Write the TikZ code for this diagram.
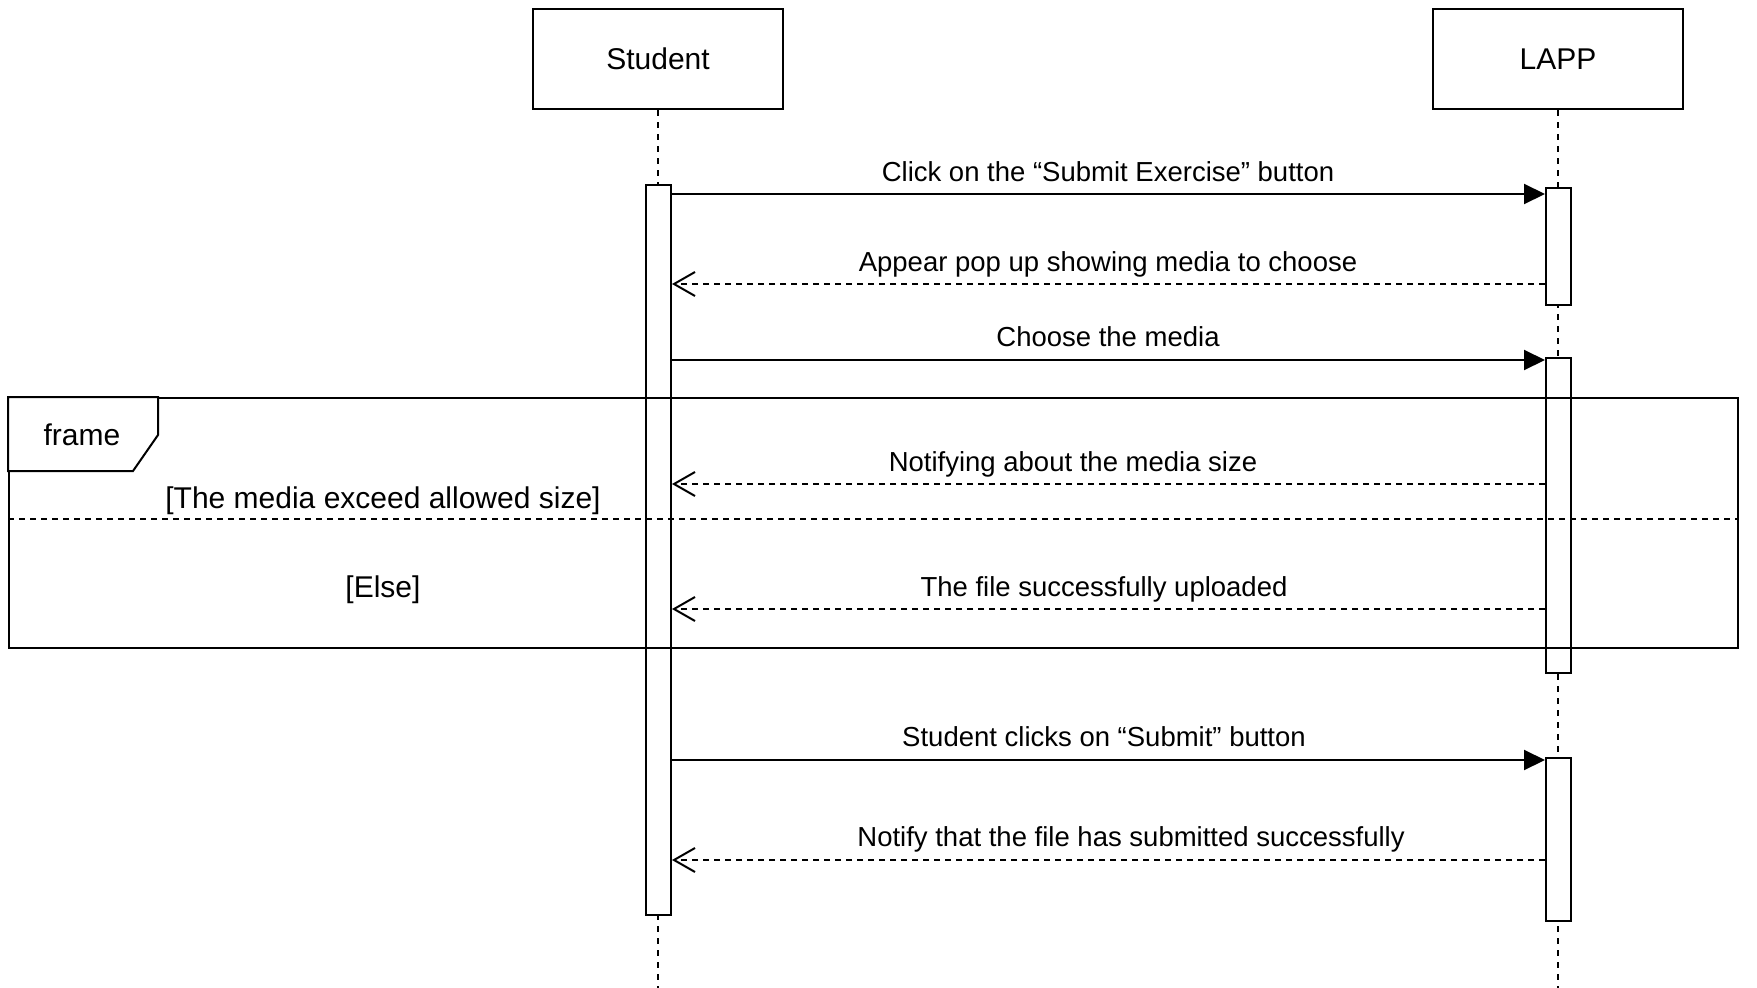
\documentclass[tikz,border=0pt]{standalone}
\usepackage{fontspec}
\setmainfont{Liberation Sans}
\usetikzlibrary{arrows.meta}
\begin{document}
\begin{tikzpicture}[x=1pt,y=-1pt,line width=2pt,
  font=\fontsize{27.5}{31}\selectfont,
  bigtext/.style={font=\fontsize{30}{34}\selectfont},
  actor/.style={draw,fill=white,minimum width=250pt,minimum height=100pt,inner sep=0pt,bigtext},
  actbar/.style={draw,fill=white,minimum width=25pt,anchor=north,inner sep=0pt},
  life/.style={dash pattern=on 6pt off 6pt},
  sync/.style={-{Triangle[length=21pt,width=20pt]}},
  reply/.style={dash pattern=on 6pt off 5pt,-{Straight Barb[length=21pt,width=24pt,line width=2pt]}},
  lbl/.style={anchor=base,inner sep=0pt}]
\useasboundingbox (0,0) rectangle (1757,988);
% participants
\node[actor] (stu) at (658,59) {Student};
\node[actor] (lapp) at (1558,59) {LAPP};
\coordinate (stuend) at (658,988);
\coordinate (lappend) at (1558,988);
\draw[life] (stu.south) -- (stuend);
\draw[life] (lapp.south) -- (lappend);
% activation bars
\node[actbar,minimum height=730pt] (sa) at (658.5,184) {};
\node[actbar,minimum height=117pt] (la1) at (1558.5,187) {};
\node[actbar,minimum height=315pt] (la2) at (1558.5,357) {};
\node[actbar,minimum height=163pt] (la3) at (1558.5,757) {};
% frame
\node[draw,minimum width=1729pt,minimum height=250pt,anchor=north west,inner sep=0pt] (frm) at (8,397) {};
\draw[fill=white] (frm.north west) -- ++(150,0) -- ++(0,38) -- ++(-25,36) -- (frm.north west |- 0,471) -- cycle;
\node[lbl,bigtext] (frmlbl) at (82,445) {frame};
\coordinate (dl) at (frm.west |- 0,519);
\coordinate (dr) at (frm.east |- 0,519);
\draw[dash pattern=on 6pt off 5pt] (dl) -- (dr);
\node[lbl,bigtext] (g1) at (383,508) {[The media exceed allowed size]};
\node[lbl,bigtext] (g2) at (383,597) {[Else]};
% message end points
\coordinate (m1a) at (sa.east |- 0,194);   \coordinate (m1b) at (la1.west |- 0,194);
\coordinate (m2a) at (la1.west |- 0,284);  \coordinate (m2b) at (sa.east |- 0,284);
\coordinate (m3a) at (sa.east |- 0,360);   \coordinate (m3b) at (la2.west |- 0,360);
\coordinate (m4a) at (la2.west |- 0,484);  \coordinate (m4b) at (sa.east |- 0,484);
\coordinate (m5a) at (la2.west |- 0,609);  \coordinate (m5b) at (sa.east |- 0,609);
\coordinate (m6a) at (sa.east |- 0,760);   \coordinate (m6b) at (la3.west |- 0,760);
\coordinate (m7a) at (la3.west |- 0,860);  \coordinate (m7b) at (sa.east |- 0,860);
% messages
\draw[sync] (m1a) -- (m1b);
\draw[reply] (m2a) -- (m2b);
\draw[sync] (m3a) -- (m3b);
\draw[reply] (m4a) -- (m4b);
\draw[reply] (m5a) -- (m5b);
\draw[sync] (m6a) -- (m6b);
\draw[reply] (m7a) -- (m7b);
% labels
\node[lbl] (l1) at (1108,181) {Click on the “Submit Exercise” button};
\node[lbl] (l2) at (1108,271) {Appear pop up showing media to choose};
\node[lbl] (l3) at (1108,346) {Choose the media};
\node[lbl] (l4) at (1073,471) {Notifying about the media size};
\node[lbl] (l5) at (1104,596) {The file successfully uploaded};
\node[lbl] (l6) at (1104,746) {Student clicks on “Submit” button};
\node[lbl] (l7) at (1131,846) {Notify that the file has submitted successfully};
\end{tikzpicture}
\end{document}
